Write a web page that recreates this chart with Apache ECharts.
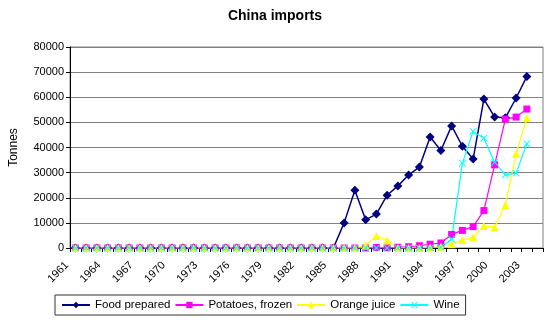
<!DOCTYPE html>
<html>
<head>
<meta charset="utf-8">
<script src="https://cdn.jsdelivr.net/npm/echarts@6/dist/echarts.min.js"></script>
<style>
html,body{margin:0;padding:0;background:#fff;}
#chart{width:550px;height:322px;}
</style>
</head>
<body>
<div id="chart"></div>
<script>
var years = ['1961','1962','1963','1964','1965','1966','1967','1968','1969','1970',
  '1971','1972','1973','1974','1975','1976','1977','1978','1979','1980',
  '1981','1982','1983','1984','1985','1986','1987','1988','1989','1990',
  '1991','1992','1993','1994','1995','1996','1997','1998','1999','2000',
  '2001','2002','2003','2004'];

var foodPrepared = [0,0,0,0,0,0,0,0,0,0, 0,0,0,0,0,0,0,0,0,0, 0,0,0,0,0,
  10000,23000,11200,13500,21000,24700,29100,32200,44200,38800,48600,40500,35400,59300,52100,51800,59700,68300,null];

var potatoesFrozen = [0,0,0,0,0,0,0,0,0,0, 0,0,0,0,0,0,0,0,0,0, 0,0,0,0,0,0,0,
  0,200,100,300,500,900,1500,2000,5400,7000,8500,14900,33100,51300,52100,55300,null];

var orangeJuice = [0,0,0,0,0,0,0,0,0,0, 0,0,0,0,0,0,0,0,0,0, 0,0,0,0,0,0,0,
  1000,4800,3000,0,0,0,200,500,1500,3200,4300,8800,8300,17100,37500,51700,null];

var wine = [0,0,0,0,0,0,0,0,0,0, 0,0,0,0,0,0,0,0,0,0, 0,0,0,0,0,0,0,
  0,0,0,0,0,0,0,300,3500,33700,46400,43700,34100,29100,29800,41500,null];

var seriesNames = ['Food prepared','Potatoes, frozen','Orange juice','Wine'];
var yTicks = [0,10000,20000,30000,40000,50000,60000,70000,80000];

var xSym = 'path://M0,1L1,0L5,4L9,0L10,1L6,5L10,9L9,10L5,6L1,10L0,9L4,5Z';

var chart = echarts.init(document.getElementById('chart'), null, {renderer:'canvas'});
function mk(name, data, color, symbol, size, width){
  return {
    name: name, type: 'line', data: data,
    symbol: symbol, symbolSize: size, showAllSymbol: true,
    connectNulls: false, animation: false,
    lineStyle: {color: color, width: width},
    itemStyle: {color: color, borderWidth: 0}
  };
}
var FF = 'Liberation Sans, Arial, sans-serif';
chart.setOption({
  animation: false,
  backgroundColor: '#fff',
  textStyle: {fontFamily: FF},
  title: {
    text: 'China imports', left: 'center', top: 4,
    textStyle: {fontSize: 14, fontWeight: 'bold', color: '#000', fontFamily: FF}
  },
  grid: {left: 65, right: 7, top: 47, bottom: 74, show: true, borderColor: '#808080', borderWidth: 1, backgroundColor: '#fff'},
  xAxis: {
    type: 'category', data: years, boundaryGap: true,
    axisLine: {lineStyle: {color: '#000', width: 1}},
    axisTick: {show: true, interval: 0, length: 4, lineStyle: {color: '#000'}},
    axisLabel: {interval: 2, rotate: 45, fontSize: 11, color: '#000', margin: 7, padding: [0, 12, 0, 0], fontFamily: FF},
    splitLine: {show: false}
  },
  yAxis: {
    type: 'value', min: yTicks[0], max: yTicks[yTicks.length-1], interval: yTicks[1]-yTicks[0],
    name: 'Tonnes', nameLocation: 'middle', nameRotate: 90, nameGap: 50,
    nameTextStyle: {fontSize: 12, color: '#000', fontFamily: FF},
    axisLine: {show: true, lineStyle: {color: '#000', width: 1}},
    axisTick: {show: true, length: 4, lineStyle: {color: '#000'}},
    axisLabel: {fontSize: 11, color: '#000', margin: 6, fontFamily: FF,
      formatter: function(v){ return String(v); }},
    splitLine: {show: true, lineStyle: {color: '#808080', width: 1}}
  },
  legend: {
    data: seriesNames, left: 55, top: 295, width: 420,
    borderColor: '#333', borderWidth: 1, padding: [4, 6, 4, 6],
    itemWidth: 28, itemHeight: 8, itemGap: 4,
    textStyle: {fontSize: 11.5, color: '#000', fontFamily: FF}
  },
  series: [
    mk(seriesNames[0], foodPrepared, '#000080', 'diamond', 9, 1.5),
    mk(seriesNames[1], potatoesFrozen, '#FF00FF', 'rect', 7, 1.2),
    mk(seriesNames[2], orangeJuice, '#FFFF00', 'triangle', 8, 1.2),
    mk(seriesNames[3], wine, '#00FFFF', xSym, 7, 1.2)
  ]
});
</script>
</body>
</html>
